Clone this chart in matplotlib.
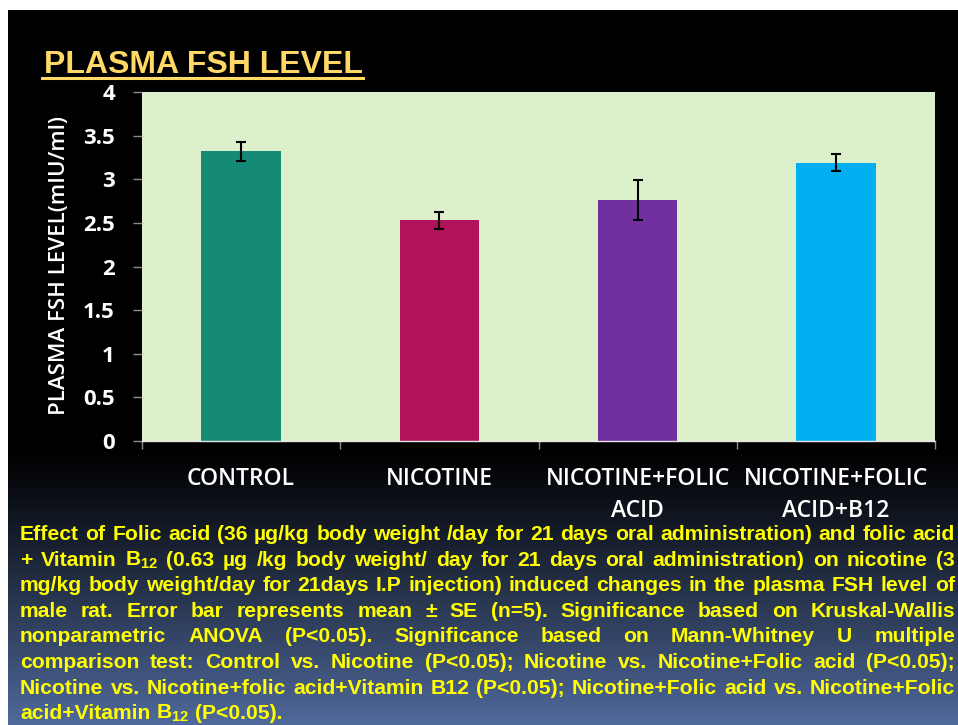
import numpy as np
import matplotlib
matplotlib.use('Agg')
import matplotlib.pyplot as plt
from matplotlib.lines import Line2D

W, H = 958, 725

groups = ['CONTROL', 'NICOTINE', 'NICOTINE+FOLIC\nACID', 'NICOTINE+FOLIC\nACID+B12']
fsh_mean = [3.32, 2.53, 2.76, 3.19]
fsh_se = [0.11, 0.10, 0.23, 0.10]
bar_colors = ['#158a76', '#b0135a', '#7030a0', '#00b0f0']
y_ticks = [0, 0.5, 1, 1.5, 2, 2.5, 3, 3.5, 4]
y_tick_labels = ['0', '0.5', '1', '1.5', '2', '2.5', '3', '3.5', '4']

caption_lines = [
    "Effect of Folic acid (36 µg/kg body weight /day for 21 days oral administration) and folic acid",
    "+ Vitamin B$_{12}$ (0.63 µg /kg body weight/ day for 21 days oral administration) on nicotine (3",
    "mg/kg body weight/day for 21days I.P injection) induced changes in the plasma FSH level of",
    "male rat. Error bar represents mean ± SE (n=5). Significance based on Kruskal-Wallis",
    "nonparametric ANOVA (P<0.05). Significance based on Mann-Whitney U multiple",
    "comparison test: Control vs. Nicotine (P<0.05); Nicotine vs. Nicotine+Folic acid (P<0.05);",
    "Nicotine vs. Nicotine+folic acid+Vitamin B12 (P<0.05); Nicotine+Folic acid vs. Nicotine+Folic",
    "acid+Vitamin B$_{12}$ (P<0.05).",
]

plt.rcParams['mathtext.fontset'] = 'custom'
plt.rcParams['mathtext.rm'] = 'Liberation Sans:bold'
plt.rcParams['mathtext.it'] = 'Liberation Sans:bold'
plt.rcParams['mathtext.bf'] = 'Liberation Sans:bold'


def px(x):
    return x / W


def py(y):
    return 1 - y / H


fig = plt.figure(figsize=(W / 100, H / 100), dpi=100, facecolor='white')

# slide background: black fading to blue at the bottom
bg = fig.add_axes([px(8), 0, 1 - px(8), py(10)])
bg.axis('off')
rows = np.arange(10, H)
t = np.clip((rows - 450) / (H - 450), 0, 1) ** 1.1
blue = np.array([0x50, 0x6a, 0x9c]) / 255
grad = (t[:, None] * blue[None, :])[:, None, :]
bg.imshow(grad, aspect='auto', extent=[0, 1, 0, 1], interpolation='bilinear')

# title with underline
title = fig.text(px(44), py(73), 'PLASMA FSH LEVEL', color='#ffd966', fontsize=23,
                 fontweight='bold', family='Liberation Sans', va='baseline')
renderer = fig.canvas.get_renderer()
tb = title.get_window_extent(renderer)
fig.add_artist(Line2D([px(42), tb.x1 / W], [py(78), py(78)],
                      color='#ffd966', lw=2.2, transform=fig.transFigure))

# chart
ax = fig.add_axes([px(142), py(441), (935 - 142) / W, (441 - 92) / H])
ax.set_facecolor('#dcf0cc')
x = np.arange(len(groups))
ax.bar(x, fsh_mean, width=0.4, color=bar_colors, yerr=fsh_se, capsize=3.5,
       error_kw=dict(ecolor='black', elinewidth=1.5, capthick=1.5))
ax.set_xlim(-0.5, len(groups) - 0.5)
ax.set_ylim(0, 4)
ax.set_yticks(y_ticks)
ax.set_yticklabels(y_tick_labels, family='Open Sans', fontweight='bold', fontsize=16, color='white')
ax.set_xticks(x)
ax.set_xticklabels(groups, family='Open Sans', fontweight='semibold', fontsize=16.5,
                   color='white', linespacing=1.45)
ax.set_xticks(np.arange(-0.5, len(groups)), minor=True)
ax.tick_params(axis='x', which='major', length=0, pad=19)
ax.tick_params(axis='x', which='minor', length=6, color='#8c8c8c', width=1)
ax.tick_params(axis='y', length=6.5, color='#8c8c8c', width=1, pad=13)
for side in ['top', 'right', 'left']:
    ax.spines[side].set_visible(False)
ax.spines['bottom'].set_color('#e6e6e6')
ax.spines['bottom'].set_linewidth(1)

fig.text(px(60), py(265), 'PLASMA FSH LEVEL(mIU/ml)', rotation=90, color='white',
         family='Open Sans', fontweight='semibold', fontsize=16, ha='center', va='center')

# justified caption
cap_style = dict(color='#ffff00', fontsize=15.2, fontweight='bold', family='Liberation Sans',
                 va='baseline', ha='left')


def text_width(s):
    tt = fig.text(0, 0, s, **cap_style)
    w = tt.get_window_extent(renderer).width
    tt.remove()
    return w


space_w = text_width('x x') - text_width('xx')
left, right = 20, 955
base0, pitch = 540, 25.6
for i, line in enumerate(caption_lines):
    words = line.split(' ')
    widths = [text_width(w) for w in words]
    if i < len(caption_lines) - 1:
        gap = (right - left - sum(widths)) / (len(words) - 1)
    else:
        gap = space_w
    xpos = left
    for w, wd in zip(words, widths):
        fig.text(px(xpos), py(base0 + i * pitch), w, **cap_style)
        xpos += wd + gap

fig.savefig('out.png', dpi=100, facecolor=fig.get_facecolor())
